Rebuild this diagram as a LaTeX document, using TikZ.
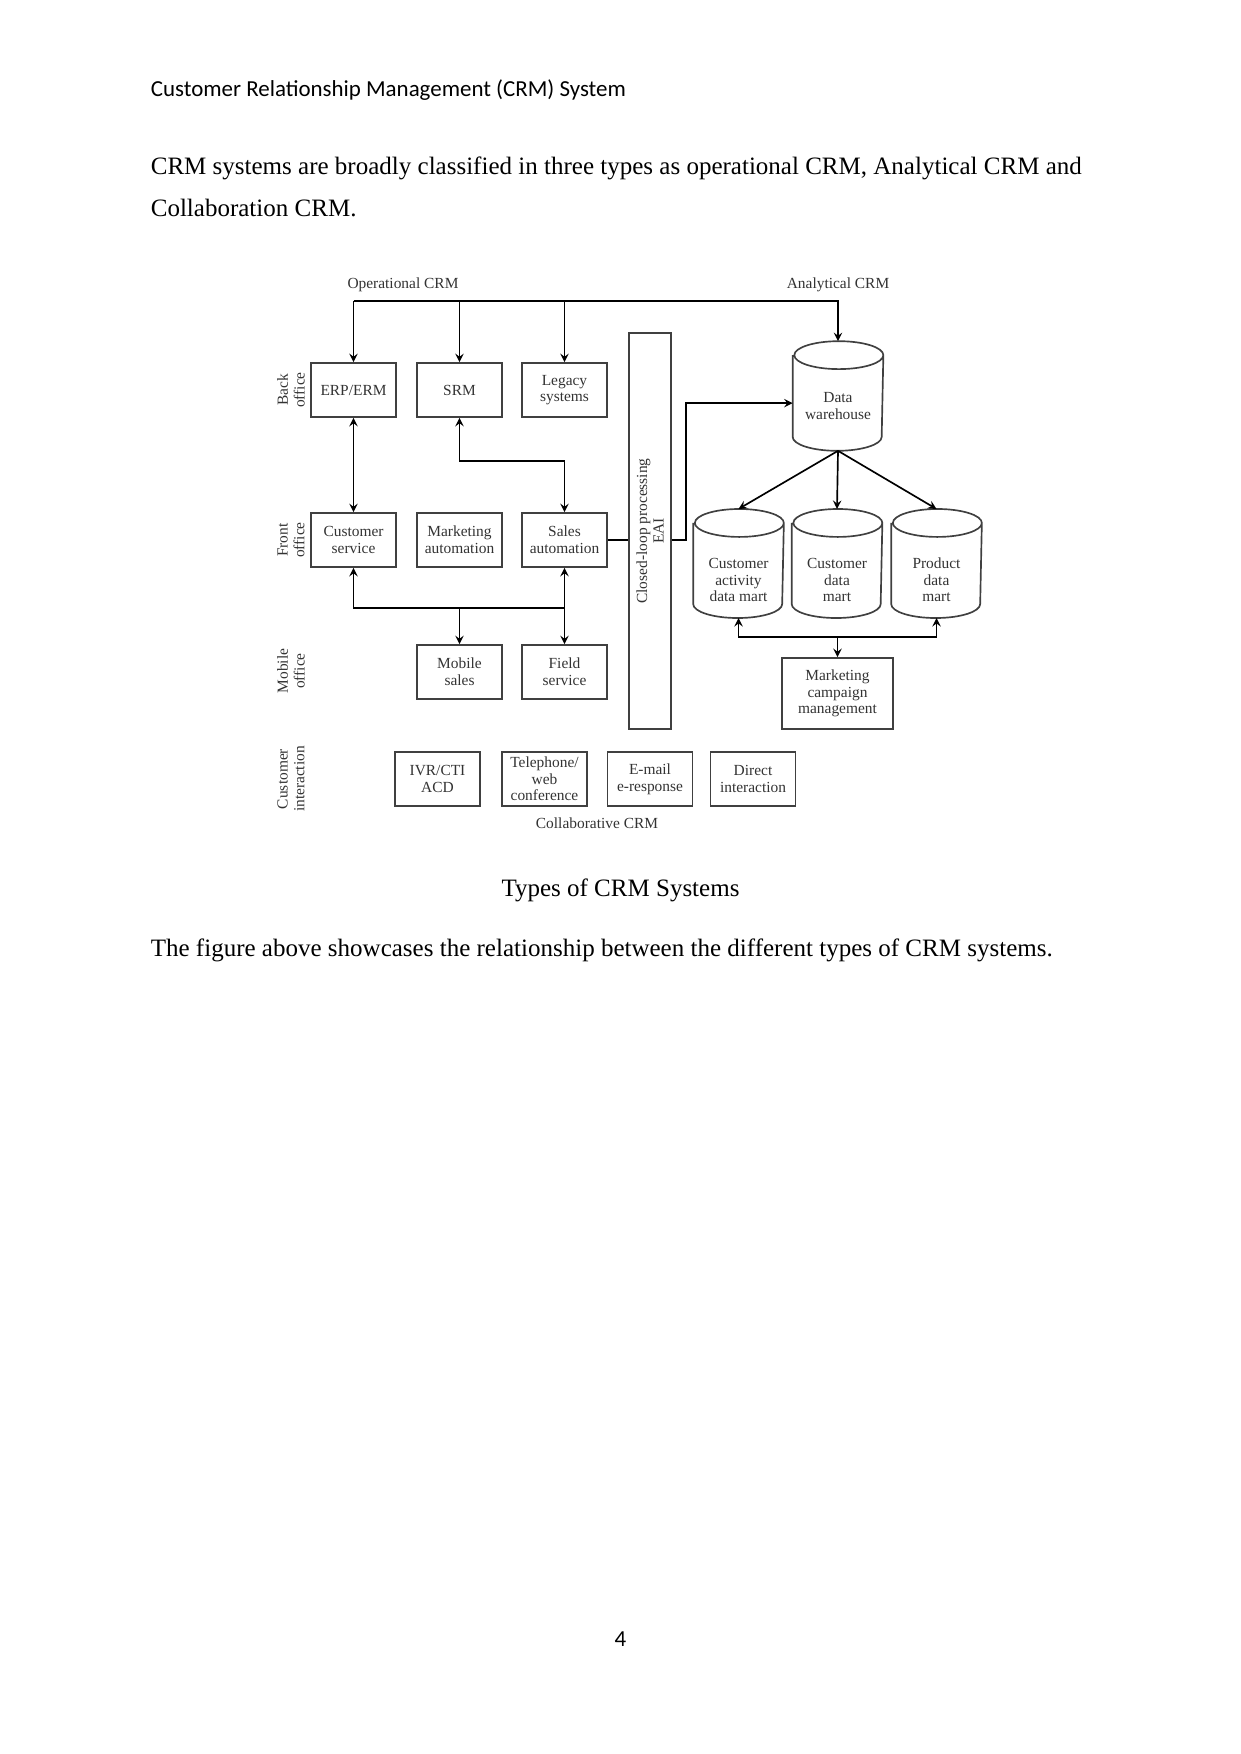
\documentclass[tikz,border=0pt]{standalone}
\usepackage{fontspec}
\setmainfont{Liberation Serif}
\newfontfamily\headfont{Carlito}

\begin{document}
\begin{tikzpicture}[>=stealth, thick, x=0.4797pt, y=-0.4797pt,
    box/.style={draw=black!75, rectangle, minimum height=25.9pt, minimum width=40.8pt, inner sep=1pt, align=center, text=black!80, font=\fontsize{7.4}{8}\selectfont},
    store/.style={rectangle, minimum height=51.5pt, minimum width=42.7pt, inner sep=0pt},
    storetext/.style={align=center, inner sep=0pt, yshift=-7.9pt, text=black!80, font=\fontsize{7.4}{8}\selectfont},
    rowlabel/.style={rotate=90, align=center, inner sep=0pt, text=black!80, font=\fontsize{7.4}{8}\selectfont},
    crmlabel/.style={inner sep=0pt, text=black!80, font=\fontsize{7.4}{8}\selectfont},
    bodytext/.style={anchor=base west, inner sep=0pt, font=\fontsize{12}{14}\selectfont}]
    \useasboundingbox (0,0) rectangle (1241,1754);

    % page text
    \node[anchor=base west, inner sep=0pt, font=\headfont\fontsize{11}{13}\selectfont] (header) at (150,97) {Customer Relationship Management (CRM) System};
    \node[bodytext] (intro1) at (150,174) {CRM systems are broadly classified in three types as operational CRM, Analytical CRM and};
    \node[bodytext] (intro2) at (150,216) {Collaboration CRM.};
    \node[bodytext, anchor=base] (caption) at (620.5,896) {Types of CRM Systems};
    \node[bodytext] (outro) at (150,956) {The figure above showcases the relationship between the different types of CRM systems.};
    \node[anchor=base, inner sep=0pt, font=\headfont\fontsize{11}{13}\selectfont] (pagenum) at (620.5,1646) {4};

    % row labels
    \node[rowlabel] (backlbl) at (291,390) {Back\\office};
    \node[rowlabel] (frontlbl) at (291,540) {Front\\office};
    \node[rowlabel] (mobilelbl) at (291,671) {Mobile\\office};
    \node[rowlabel] (custlbl) at (291,779) {Customer\\interaction};

    % operational CRM
    \node[box] (erp) at (353.5,390) {ERP/ERM};
    \node[box] (srm) at (459.5,390) {SRM};
    \node[box] (legacy) at (564.5,390) {Legacy\\systems};
    \node[box] (custsvc) at (353.5,540) {Customer\\service};
    \node[box] (mktauto) at (459.5,540) {Marketing\\automation};
    \node[box] (salesauto) at (564.5,540) {Sales\\automation};
    \node[box] (mobsales) at (459.5,672) {Mobile\\sales};
    \node[box] (fieldsvc) at (564.5,672) {Field\\service};

    % collaborative CRM
    \node[box] (ivr) at (437.5,779) {IVR/CTI\\ACD};
    \node[box] (phone) at (544.5,779) {Telephone/\\web\\conference};
    \node[box] (email) at (650,779) {E-mail\\e-response};
    \node[box] (direct) at (753,779) {Direct\\interaction};

    % closed loop (rotated: north is the left side)
    \node[box, rotate=90, minimum width=190pt, minimum height=20.1pt] (eai) at (650,531) {Closed-loop processing\\EAI};

    % analytical CRM
    \node[store, minimum height=51.8pt, label={[storetext, yshift=3.1pt]center:Data\\warehouse}] (dw) at (838,396) {};
    \node[store, label={[storetext]center:Customer\\activity\\data mart}] (actmart) at (738.5,563.5) {};
    \node[store, label={[storetext]center:Customer\\data\\mart}] (custmart) at (837,563.5) {};
    \node[store, label={[storetext]center:Product\\data\\mart}] (prodmart) at (936.5,563.5) {};
    \node[box, minimum width=53.2pt, minimum height=34.1pt] (campaign) at (837.5,693.5) {Marketing\\campaign\\management};

    % cylinder outlines
    \foreach \db in {dw, actmart, custmart, prodmart}
        \draw[black!75] ([yshift=-6.7pt]\db.north west) -- ([yshift=6.7pt]\db.south west)
            arc[start angle=180, end angle=360, x radius=21.35pt, y radius=6.7pt]
            -- ([yshift=-6.7pt]\db.north east)
            arc[start angle=0, end angle=360, x radius=21.35pt, y radius=6.7pt];

    \node[crmlabel] (opcrm) at (403,285) {Operational CRM};
    \node[crmlabel] (ancrm) at (838,285) {Analytical CRM};
    \node[crmlabel] (colcrm) at (597,823) {Collaborative CRM};

    \coordinate (topbus) at (0,301);
    \coordinate (frontbus) at (0,608);
    \coordinate (martbus) at (0,637);

    \draw[->] (erp.north |- topbus) -| (dw.north);
    \draw[->] (erp.north |- topbus) -- (erp.north);
    \draw[->] (srm.north |- topbus) -- (srm.north);
    \draw[->] (legacy.north |- topbus) -- (legacy.north);
    \draw[<->] (erp) -- (custsvc);
    \draw[<->] (srm.south) -- ++(0,43) -| (salesauto.north);
    \draw[<->] (custsvc.south) |- (salesauto.south |- frontbus) -- (salesauto.south);
    \draw[->] (mobsales.north |- frontbus) -- (mobsales.north);
    \draw[->] (fieldsvc.north |- frontbus) -- (fieldsvc.north);
    \draw (salesauto.east) -- (salesauto.east -| eai.north);
    \draw[->] (eai.south |- salesauto.east) -- ++(14,0) |- ([yshift=-3.4pt]dw.west);
    \draw[->] (dw.south) -- (actmart.north);
    \draw[->] (dw.south) -- (custmart.north);
    \draw[->] (dw.south) -- (prodmart.north);
    \draw[<->] (actmart.south) |- (prodmart.south |- martbus) -- (prodmart.south);
    \draw[->] (campaign.north |- martbus) -- (campaign.north);
\end{tikzpicture}
\end{document}
